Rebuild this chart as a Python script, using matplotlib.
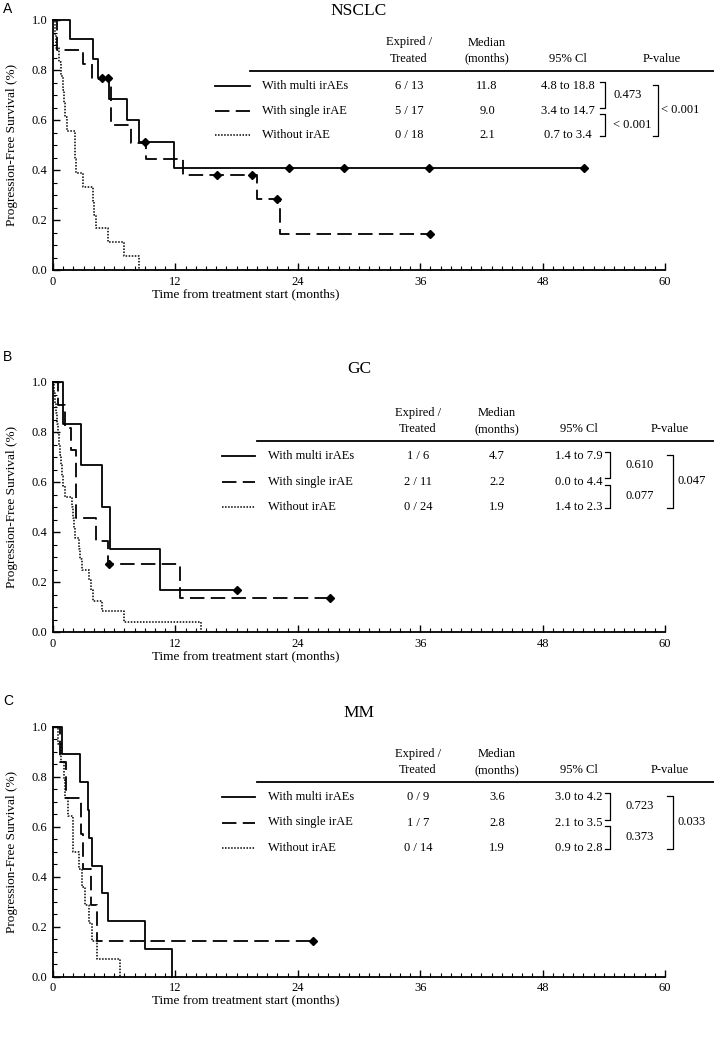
import numpy as np
import matplotlib
matplotlib.use("Agg")
import matplotlib.pyplot as plt
from matplotlib.lines import Line2D
from matplotlib.ticker import MultipleLocator, FormatStrFormatter

plt.rcParams["font.family"] = "Liberation Serif"
plt.rcParams["font.size"] = 9

"Data read off the curves (months, survival after each drop)"
# NSCLC
a_multi_t = [1.7, 3.9, 4.4, 5.5, 7.3, 8.4, 11.9]
a_multi_s = [0.923, 0.846, 0.769, 0.684, 0.600, 0.513, 0.410]
a_multi_c = [4.8, 5.4, 9.0, 23.1, 28.5, 36.9, 52.1]
a_single_t = [0.4, 2.9, 3.8, 5.7, 7.6, 9.1, 12.7, 20.0, 22.3]
a_single_s = [0.882, 0.824, 0.765, 0.580, 0.510, 0.446, 0.381, 0.286, 0.143]
a_single_c = [16.1, 19.5, 22.0, 37.0]
a_none_t = [0.15, 0.3, 0.6, 0.8, 0.95, 1.05, 1.2, 1.4, 2.15, 2.2, 2.25, 2.9,
            3.95, 4.05, 4.2, 5.4, 7.0, 8.4]
a_none_s = [0.944, 0.889, 0.833, 0.778, 0.722, 0.667, 0.611, 0.556, 0.500,
            0.444, 0.389, 0.333, 0.278, 0.222, 0.167, 0.111, 0.056, 0.0]
a_none_c = []

# GC
b_multi_t = [1.0, 2.75, 4.8, 5.6, 10.5]
b_multi_s = [0.833, 0.667, 0.500, 0.333, 0.167]
b_multi_c = [18.0]
b_single_t = [0.5, 1.2, 1.8, 2.3, 4.2, 5.4, 12.5]
b_single_s = [0.909, 0.818, 0.727, 0.455, 0.364, 0.273, 0.136]
b_single_c = [5.5, 27.2]
b_none_t = [0.1, 0.2, 0.3, 0.4, 0.5, 0.6, 0.7, 0.8, 0.9, 1.0, 1.2, 1.9, 2.0,
            2.1, 2.2, 2.5, 2.6, 2.8, 3.5, 3.7, 3.9, 4.8, 7.0, 14.5]
b_none_s = [0.958, 0.917, 0.875, 0.833, 0.792, 0.750, 0.708, 0.667, 0.625,
            0.583, 0.542, 0.500, 0.458, 0.417, 0.375, 0.333, 0.292, 0.250,
            0.208, 0.167, 0.125, 0.083, 0.042, 0.0]
b_none_c = []

# MM
c_multi_t = [0.85, 2.6, 3.45, 3.55, 3.8, 4.8, 5.4, 9.0, 11.7]
c_multi_s = [0.889, 0.778, 0.667, 0.556, 0.444, 0.333, 0.222, 0.111, 0.0]
c_multi_c = []
c_single_t = [0.7, 1.3, 2.7, 2.9, 3.7, 4.3]
c_single_s = [0.857, 0.714, 0.571, 0.429, 0.286, 0.143]
c_single_c = [25.5]
c_none_t = [0.5, 0.8, 1.1, 1.2, 1.5, 1.95, 2.0, 2.5, 2.8, 3.1, 3.5, 3.8, 4.3, 6.6]
c_none_s = [0.929, 0.857, 0.786, 0.714, 0.643, 0.571, 0.500, 0.429, 0.357,
            0.286, 0.214, 0.143, 0.071, 0.0]
c_none_c = []

"Table contents"
groups = ["With multi irAEs", "With single irAE", "Without irAE"]
a_counts = ["6 / 13", "5 / 17", "0 / 18"]
a_median = ["11.8", "9.0", "2.1"]
a_ci = ["4.8 to 18.8", "3.4 to 14.7", "0.7 to 3.4"]
a_p = ["0.473", "< 0.001", "< 0.001"]
b_counts = ["1 / 6", "2 / 11", "0 / 24"]
b_median = ["4.7", "2.2", "1.9"]
b_ci = ["1.4 to 7.9", "0.0 to 4.4", "1.4 to 2.3"]
b_p = ["0.610", "0.077", "0.047"]
c_counts = ["0 / 9", "1 / 7", "0 / 14"]
c_median = ["3.6", "2.8", "1.9"]
c_ci = ["3.0 to 4.2", "2.1 to 3.5", "0.9 to 2.8"]
c_p = ["0.723", "0.373", "0.033"]

"Figure properties (pixels)"
W, H = 714, 1044
fig = plt.figure(figsize=(W / 100, H / 100), dpi=100)


def fx(x):
    return x / W


def fy(y):
    return 1 - y / H


styles = [dict(color="k", lw=1.3, ls="-"),
          dict(color="k", lw=1.3, dashes=(8, 3.5)),
          dict(color="k", lw=1.1, dashes=(1, 1))]


def km(ax, t, s, cens, style):
    t = np.asarray(t, float)
    s = np.asarray(s, float)
    x = np.r_[0, t]
    y = np.r_[1, s]
    if len(cens) and max(cens) > t[-1]:
        x = np.r_[x, max(cens)]
        y = np.r_[y, s[-1]]
    ax.step(x, y, where="post", clip_on=False, **style)
    if len(cens):
        idx = np.searchsorted(t, cens, side="right")
        cy = np.r_[1, s][idx]
        ax.plot(cens, cy, "D", ms=3.6, color="k", clip_on=False)


def fline(xs, ys, **kw):
    fig.add_artist(Line2D([fx(v) for v in xs], [fy(v) for v in ys],
                          transform=fig.transFigure, **kw))


panels = [
    dict(letter="A", title="NSCLC", top=20, bottom=270, let_y=9, tit_y=11,
         curves=[(a_multi_t, a_multi_s, a_multi_c), (a_single_t, a_single_s, a_single_c),
                 (a_none_t, a_none_s, a_none_c)],
         counts=a_counts, median=a_median, ci=a_ci, p=a_p,
         line_y=70.5, rows=(86, 110.5, 134.5), line_x=250, samp=(215, 250), lab_x=262,
         cols=(409, 487, 568, 662), ib=(600, 605), ptx=613, ob=(653, 658), otx=661),
    dict(letter="B", title="GC", top=382, bottom=632, let_y=357, tit_y=369,
         curves=[(b_multi_t, b_multi_s, b_multi_c), (b_single_t, b_single_s, b_single_c),
                 (b_none_t, b_none_s, b_none_c)],
         counts=b_counts, median=b_median, ci=b_ci, p=b_p,
         line_y=441, rows=(455.5, 481.5, 507), line_x=257, samp=(222, 255), lab_x=268,
         cols=(418, 497, 579, 670), ib=(605, 609.5), ptx=625, ob=(667, 672.5), otx=678),
    dict(letter="C", title="MM", top=726.5, bottom=976.5, let_y=701, tit_y=713,
         curves=[(c_multi_t, c_multi_s, c_multi_c), (c_single_t, c_single_s, c_single_c),
                 (c_none_t, c_none_s, c_none_c)],
         counts=c_counts, median=c_median, ci=c_ci, p=c_p,
         line_y=782, rows=(796.5, 822.5, 848), line_x=257, samp=(222, 255), lab_x=268,
         cols=(418, 497, 579, 670), ib=(605, 609.5), ptx=625, ob=(667, 672.5), otx=678),
]

for P in panels:
    ax = fig.add_axes([fx(53), fy(P["bottom"]), 612 / W, (P["bottom"] - P["top"]) / H])
    for (t, s, c), st in zip(P["curves"], styles):
        km(ax, t, s, c, st)

    ax.set_xlim(0, 60)
    ax.set_ylim(0, 1.0)
    ax.xaxis.set_major_locator(MultipleLocator(12))
    ax.xaxis.set_minor_locator(MultipleLocator(1))
    ax.yaxis.set_major_locator(MultipleLocator(0.2))
    ax.yaxis.set_minor_locator(MultipleLocator(0.05))
    ax.yaxis.set_major_formatter(FormatStrFormatter("%.1f"))
    for sp in ["top", "right"]:
        ax.spines[sp].set_visible(False)
    for sp in ["left", "bottom"]:
        ax.spines[sp].set_linewidth(1.3)
    ax.tick_params(which="major", direction="in", length=5, width=1.0, labelsize=9, pad=4)
    ax.tick_params(which="minor", direction="in", length=3, width=0.8)
    ax.set_xlabel("Time from treatment start (months)", fontsize=9.5)
    ax.xaxis.set_label_coords(0.315, -0.072)
    ax.set_ylabel("Progression-Free Survival (%)", fontsize=9.5)
    ax.yaxis.set_label_coords(-0.058, 0.5)

    fig.text(fx(359), fy(P["tit_y"]), P["title"], fontsize=12.5, ha="center", va="center")
    fig.text(fx(3), fy(P["let_y"]), P["letter"], family="Liberation Sans",
             fontsize=10, va="center", ha="left")

    "Table"
    ly = P["line_y"]
    rows = P["rows"]
    c1, c2, c3, c4 = P["cols"]
    fline([P["line_x"], W], [ly, ly], color="k", lw=1.3)
    fig.text(fx(c1), fy(ly - 28), "Expired /", ha="center", va="center")
    fig.text(fx(c1), fy(ly - 12), "Treated", ha="center", va="center")
    fig.text(fx(c2), fy(ly - 28), "Median", ha="center", va="center")
    fig.text(fx(c2), fy(ly - 12), "(months)", ha="center", va="center")
    fig.text(fx(c3), fy(ly - 12), "95% Cl", ha="center", va="center")
    fig.text(fx(c4), fy(ly - 12), "P-value", ha="center", va="center")
    for i, st in enumerate(styles):
        y = rows[i]
        fline(list(P["samp"]), [y, y], **st)
        fig.text(fx(P["lab_x"]), fy(y), groups[i], ha="left", va="center")
        fig.text(fx(c1), fy(y), P["counts"][i], ha="center", va="center")
        fig.text(fx(c2), fy(y), P["median"][i], ha="center", va="center")
        fig.text(fx(c3), fy(y), P["ci"][i], ha="center", va="center")

    i0, i1 = P["ib"]
    o0, o1 = P["ob"]
    br1 = (rows[0] - 4, rows[1] - 3)
    br2 = (rows[1] + 3, rows[2] + 1)
    br3 = (rows[0] - 1, rows[2] + 1)
    for (yt, yb) in [br1, br2]:
        fline([i0, i1, i1, i0], [yt, yt, yb, yb], color="k", lw=0.9)
    fline([o0, o1, o1, o0], [br3[0], br3[0], br3[1], br3[1]], color="k", lw=0.9)
    fig.text(fx(P["ptx"]), fy(sum(br1) / 2), P["p"][0], ha="left", va="center")
    fig.text(fx(P["ptx"]), fy(sum(br2) / 2), P["p"][1], ha="left", va="center")
    fig.text(fx(P["otx"]), fy(sum(br3) / 2), P["p"][2], ha="left", va="center")

plt.savefig("out.png", dpi=100)
